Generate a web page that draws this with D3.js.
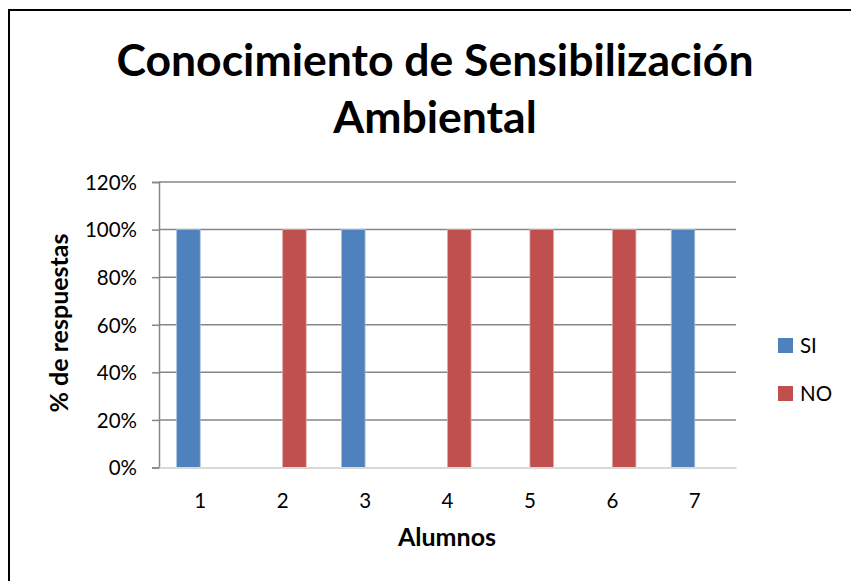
<!DOCTYPE html>
<html><head><meta charset="utf-8">
<script src="https://cdn.jsdelivr.net/npm/d3@7"></script>
<style>body{margin:0;background:#fff}svg{display:block}text{font-family:Lato,"Open Sans",sans-serif}</style>
</head><body><svg id="c" width="851" height="581"></svg>
<script>
const categories = ["1","2","3","4","5","6","7"];
const seriesNames = ["SI","NO"];
const siValues = [1,0,1,0,0,0,1];
const noValues = [0,1,0,1,1,1,0];
const yTicks = [0,0.2,0.4,0.6,0.8,1.0,1.2];
const titleLines = ["Conocimiento de Sensibilización","Ambiental"];
const colors = ["#4f81bd","#c0504d"];

const svg = d3.select("#c");
svg.append("rect").attr("x",9).attr("y",10).attr("width",900).attr("height",700)
  .attr("fill","#fff").attr("stroke","#000").attr("stroke-width",2);

const m = {l:159, r:736, t:182, b:467.5};
const x = d3.scaleBand().domain(categories).range([m.l,m.r]).paddingInner(0).paddingOuter(0);
const bw = x.bandwidth()/3.5;
const xs = d3.scaleBand().domain(seriesNames).range([0, 2*bw]);
const y = d3.scaleLinear().domain([0,1.2]).range([m.b,m.t]);

// gridlines
svg.append("g").selectAll("line").data(yTicks.filter(d=>d>0)).join("line")
  .attr("x1",m.l).attr("x2",m.r).attr("y1",d=>y(d)).attr("y2",d=>y(d))
  .attr("stroke","#868686").attr("stroke-width",1.5);

// y axis
const ya = svg.append("g").attr("transform",`translate(${m.l},0)`)
  .call(d3.axisLeft(y).tickValues(yTicks).tickFormat(d3.format(".0%")).tickSize(7).tickPadding(15));
ya.select(".domain").attr("stroke","#868686").attr("stroke-width",1.5);
ya.selectAll(".tick line").attr("stroke","#868686").attr("stroke-width",1.5);
ya.selectAll("text").attr("font-size",20.5).attr("fill","#000").attr("font-family","Lato").attr("dy","0.36em");

// bars
const data = categories.map((c,i)=>({c, vals:[siValues[i],noValues[i]]}));
const g = svg.append("g");
data.forEach(d=>{
  d.vals.forEach((v,j)=>{
    if(v<=0) return;
    g.append("rect")
      .attr("x", x(d.c) + x.bandwidth()/2 - bw + xs(seriesNames[j]))
      .attr("y", y(v)).attr("width", bw).attr("height", y(0)-y(v))
      .attr("fill", colors[j]).attr("stroke", j===0?"#a7c0de":"#dfa7a6").attr("stroke-width",0.8);
  });
});

// x axis
const xa = svg.append("g").attr("transform",`translate(0,${m.b})`)
  .call(d3.axisBottom(x).tickSize(0));
xa.select(".domain").attr("stroke","#d9d9d9").attr("stroke-width",2);
xa.selectAll("text").attr("font-size",20.5).attr("fill","#000").attr("font-family","Lato")
  .attr("y",40.2).attr("dy",0);

// titles
svg.append("text").attr("x",435).attr("y",76).attr("text-anchor","middle")
  .attr("font-size",44.5).attr("font-weight","bold").text(titleLines[0]);
svg.append("text").attr("x",435).attr("y",133).attr("text-anchor","middle")
  .attr("font-size",44.5).attr("font-weight","bold").text(titleLines[1]);

svg.append("text").attr("x",447).attr("y",546).attr("text-anchor","middle")
  .attr("font-size",25).attr("font-weight","bold").text("Alumnos");
svg.append("text").attr("transform","translate(68,323) rotate(-90)").attr("text-anchor","middle")
  .attr("font-size",25).attr("font-weight","bold").text("% de respuestas");

// legend
const lg = svg.append("g");
seriesNames.forEach((s,i)=>{
  lg.append("rect").attr("x",778).attr("y",338+i*48).attr("width",15).attr("height",15).attr("fill",colors[i]);
  lg.append("text").attr("x",800).attr("y",353+i*48).attr("font-size",20.5).text(s);
});
</script></body></html>
